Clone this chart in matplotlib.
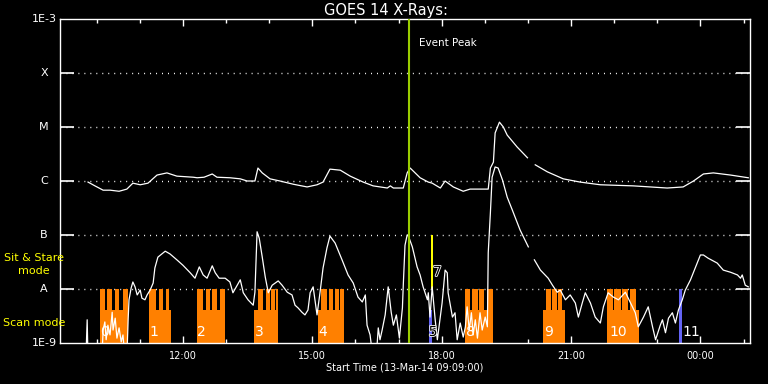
import numpy as np
import matplotlib.pyplot as plt
import matplotlib.patheffects as pe

# GOES 14 X-rays, 13-Mar-14 from 09:09 UT
# time in hours after start, flux as log10(W/m^2)
long_t = [0.65, 0.81, 1.00, 1.16, 1.37, 1.55, 1.69, 1.86, 2.04, 2.25, 2.48, 2.71,
          3.09, 3.18, 3.34, 3.53, 3.64, 3.94, 4.18, 4.34, 4.52, 4.59, 4.69, 4.87,
          5.10, 5.41, 5.73, 5.96, 6.10, 6.26, 6.50, 6.73, 7.03, 7.26, 7.59, 7.66,
          7.73, 7.96, 8.05, 8.12, 8.35, 8.54, 8.63, 8.82, 8.93, 9.12, 9.35, 9.51,
          9.93, 9.98, 10.05, 10.09, 10.19, 10.28, 10.37, 10.60, 10.84, np.nan,
          11.02, 11.30, 11.67, 12.06, 12.53, 13.29, 14.08, 14.45, 14.69, 14.92,
          15.15, 15.55, 15.96]
long_log = [-6.02, -6.09, -6.17, -6.17, -6.19, -6.15, -6.04, -6.07, -6.04, -5.89, -5.85, -5.91,
            -5.93, -5.94, -5.93, -5.87, -5.93, -5.94, -5.96, -6.00, -6.00, -5.76, -5.85, -5.96,
            -6.00, -6.06, -6.11, -6.07, -6.02, -5.78, -5.80, -5.91, -6.02, -6.09, -6.13, -6.09,
            -6.13, -6.13, -5.85, -5.76, -5.94, -6.02, -6.04, -6.13, -6.00, -6.11, -6.19, -6.15,
            -6.15, -5.76, -5.65, -5.11, -4.91, -5.00, -5.15, -5.37, -5.57, np.nan,
            -5.70, -5.83, -5.96, -6.02, -6.07, -6.09, -6.13, -6.11, -6.00, -5.87,
            -5.85, -5.89, -5.94]

short_t = [0.60, 0.63, 0.65, 0.97, 1.00, 1.04, 1.07, 1.11, 1.16, 1.21, 1.23, 1.28,
           1.32, 1.37, 1.42, 1.46, 1.51, 1.55, 1.58, 1.60, 1.65, 1.69, 1.74, 1.79,
           1.86, 1.90, 1.97, 2.02, 2.09, 2.16, 2.20, 2.27, 2.44, 2.55, 2.71, 2.85,
           3.02, 3.13, 3.23, 3.32, 3.41, 3.53, 3.60, 3.69, 3.83, 3.94, 4.01, 4.11,
           4.18, 4.25, 4.36, 4.48, 4.52, 4.57, 4.62, 4.69, 4.76, 4.83, 4.92, 5.06,
           5.15, 5.27, 5.38, 5.45, 5.52, 5.61, 5.68, 5.75, 5.80, 5.87, 5.96, 6.03,
           6.10, 6.19, 6.26, 6.38, 6.54, 6.68, 6.80, 6.91, 7.01, 7.08, 7.12, 7.19,
           7.26, 7.33, 7.38, 7.42, 7.47, 7.54, 7.61, 7.68, 7.73, 7.80, 7.87, 7.94,
           7.96, 8.00, 8.05, 8.07, 8.17, 8.28, 8.35, 8.42, 8.52, 8.54, 8.58, 8.63,
           8.70, 8.75, 8.86, 8.93, 8.98, 9.00, 9.10, 9.16, 9.21, 9.28, 9.35, 9.40,
           9.44, 9.49, 9.54, 9.58, 9.63, 9.68, 9.74, 9.79, 9.86, 9.91, 9.93, 9.98,
           10.02, 10.09, 10.16, 10.26, 10.37, 10.49, 10.67, 10.86, np.nan, 11.00,
           11.14, 11.32, 11.42, 11.53, 11.60, 11.72, 11.83, 11.95, 12.02, 12.11,
           12.18, 12.30, 12.41, 12.53, 12.60, 12.71, 12.83, 12.95, 13.11, 13.23,
           13.34, 13.41, 13.53, 13.64, 13.74, 13.81, 13.92, 13.97, 14.04, 14.11,
           14.20, 14.27, 14.34, 14.43, 14.50, 14.62, 14.73, 14.85, 14.92, 15.03,
           15.24, 15.38, 15.55, 15.71, 15.78, 15.82, 15.89, 15.96]
short_log = [-9.3, -8.57, -9.3, -9.3, -8.76, -8.61, -8.94, -8.67, -8.85, -8.43, -8.76, -8.54,
             -8.91, -8.72, -8.98, -8.85, -9.3, -9.3, -8.57, -8.20, -7.98, -7.87, -7.96, -8.11,
             -8.02, -8.17, -8.20, -8.11, -8.02, -7.89, -7.61, -7.41, -7.30, -7.35, -7.46, -7.56,
             -7.70, -7.80, -7.59, -7.74, -7.80, -7.57, -7.70, -7.80, -7.80, -7.87, -8.07, -7.93,
             -7.83, -8.07, -8.20, -8.30, -8.06, -6.94, -7.06, -7.41, -7.78, -8.07, -7.93, -7.85,
             -7.93, -8.06, -8.11, -8.30, -8.35, -8.43, -8.48, -8.39, -8.07, -7.96, -8.48, -8.06,
             -7.61, -7.24, -7.02, -7.15, -7.46, -7.74, -7.89, -8.15, -8.24, -8.11, -8.67, -8.85,
             -9.3, -9.3, -8.72, -8.94, -8.76, -8.48, -7.96, -8.43, -8.67, -8.48, -8.91, -8.35,
             -7.93, -7.19, -7.00, -7.00, -7.22, -7.59, -7.74, -7.96, -8.20, -8.07, -8.52, -7.96,
             -8.57, -8.94, -8.26, -7.65, -7.70, -8.07, -8.52, -8.44, -8.94, -8.63, -8.89, -8.70,
             -8.33, -8.76, -8.44, -8.85, -8.57, -8.91, -8.44, -8.76, -8.52, -8.70, -7.33, -6.59,
             -5.93, -5.74, -5.76, -5.98, -6.30, -6.54, -6.91, -7.22, np.nan, -7.46,
             -7.65, -7.80, -7.93, -8.06, -8.02, -8.20, -8.11, -8.26, -8.52, -8.26,
             -8.07, -8.26, -8.52, -8.63, -8.33, -8.07, -8.15, -8.20, -8.06, -8.26,
             -8.44, -8.70, -8.52, -8.33, -8.70, -8.94, -8.67, -8.57, -8.81, -8.54,
             -8.44, -8.63, -8.39, -8.20, -8.02, -7.83, -7.61, -7.37, -7.37, -7.43,
             -7.52, -7.65, -7.69, -7.74, -7.80, -7.74, -7.93, -7.96]

levels = [1e-9, 1e-8, 1e-7, 1e-6, 1e-5, 1e-4, 1e-3]
level_names = ['1E-9', 'A', 'B', 'C', 'M', 'X', '1E-3']

# observation blocks (scan mode)
scan_start = [0.93, 2.06, 3.18, 4.50, 5.98, 9.38, 11.21, 12.68]
scan_end = [1.58, 2.58, 3.83, 5.05, 6.59, 10.03, 11.72, 13.42]
scan_teeth = [
    [(0.93, 1.05), (1.10, 1.21), (1.27, 1.37), (1.45, 1.58)],
    [(2.06, 2.23), (2.29, 2.39), (2.45, 2.53)],
    [(3.18, 3.32), (3.38, 3.48), (3.53, 3.64), (3.70, 3.83)],
    [(4.58, 4.71), (4.77, 4.86), (4.90, 4.98), (5.01, 5.06)],
    [(6.06, 6.18), (6.23, 6.34), (6.38, 6.46), (6.50, 6.59)],
    [(9.38, 9.50), (9.55, 9.69), (9.72, 9.83), (9.90, 10.03)],
    [(11.28, 11.38), (11.41, 11.52), (11.55, 11.65)],
    [(12.69, 12.82), (12.85, 13.00), (13.04, 13.17), (13.22, 13.35)],
]
scan_names = ['0', '1', '2', '3', '4', '8', '9', '10']
scan_name_t = [1.04, 2.18, 3.27, 4.62, 6.10, 9.51, 11.32, 12.95]
scan_base = 4.1e-9

blue_start = [8.56, 14.36]
blue_end = [8.63, 14.43]
blue_top = [4.1e-9, 1e-8]
blue_names = ['5', '11']
blue_name_t = [8.65, 14.64]

stare_start = 8.61
stare_end = 8.65
stare_name_t = 8.75
stare_name_y = 2.07e-8

event_peak = 8.10

orange = '#FF8000'
blue = '#6464F5'
green = '#9ACD00'

fig = plt.figure(figsize=(7.68, 3.84), dpi=100, facecolor='black')
ax = fig.add_axes([60 / 768, 41 / 384, 690 / 768, 324 / 384], facecolor='black')
ax.set_yscale('log')
ax.set_xlim(0, 16)
ax.set_ylim(1e-9, 1e-3)

# dotted level lines
for lv in levels[1:-1]:
    ax.axhline(lv, color='white', lw=1.0, linestyle=(0, (0.7, 3.6)), zorder=1)

# scan mode blocks
for s, e, teeth in zip(scan_start, scan_end, scan_teeth):
    ax.bar(s, scan_base - 1e-9, bottom=1e-9, width=e - s, align='edge',
           color=orange, lw=0, zorder=2)
    for a, b in teeth:
        ax.bar(a, 1e-8 - 1e-9, bottom=1e-9, width=b - a, align='edge',
               color=orange, lw=0, zorder=2)
for s, e, top in zip(blue_start, blue_end, blue_top):
    ax.bar(s, top - 1e-9, bottom=1e-9, width=e - s, align='edge',
           color=blue, lw=0, zorder=2)
ax.bar(stare_start, 1e-7 - 1e-8, bottom=1e-8, width=stare_end - stare_start,
       align='edge', color='yellow', lw=0, zorder=2)

ax.plot(long_t, np.power(10.0, long_log), color='white', lw=0.9, zorder=3)
ax.plot(short_t, np.power(10.0, short_log), color='white', lw=0.9, zorder=3)

ax.axvline(event_peak, color=green, lw=1.5, zorder=4)
ax.text(event_peak + 0.23, 3.6e-4, 'Event Peak', color='white', fontsize=7.5,
        va='center', ha='left')

for name, t in zip(scan_names, scan_name_t):
    ax.text(t, 1.6e-9, name, color='white', fontsize=10, ha='center', va='center', zorder=5)
hollow = [pe.withStroke(linewidth=1.2, foreground='white')]
ax.text(blue_name_t[0], 1.6e-9, blue_names[0], color='black', fontsize=10,
        ha='center', va='center', zorder=5, path_effects=hollow)
ax.text(blue_name_t[1], 1.6e-9, blue_names[1], color='white', fontsize=10,
        ha='center', va='center', zorder=5)
ax.text(stare_name_t, stare_name_y, '7', color='black', fontsize=10,
        ha='center', va='center', zorder=5, path_effects=hollow)

# axes styling
for sp in ax.spines.values():
    sp.set_color('white')
    sp.set_linewidth(1.0)
ax.set_yticks(levels[1:-1])
ax.set_yticklabels([])
ax.yaxis.set_minor_locator(plt.NullLocator())
ax.tick_params(axis='y', which='major', direction='in', length=10, width=1.2,
               color='white', left=True, right=True)
majors = [2.85, 5.85, 8.85, 11.85, 14.85]
ax.set_xticks(majors)
ax.set_xticklabels(['12:00', '15:00', '18:00', '21:00', '00:00'])
ax.set_xticks([h + 0.85 for h in range(16) if h + 0.85 not in majors], minor=True)
ax.tick_params(axis='x', which='major', direction='in', length=5, width=1,
               color='white', labelcolor='white', labelsize=7, top=True, pad=6)
ax.tick_params(axis='x', which='minor', direction='in', length=2.8, width=1,
               color='white', top=True)

for lv, name in zip(levels, level_names):
    if name.startswith('1E'):
        ax.text(-3 / 690, lv, name, transform=ax.get_yaxis_transform(),
                color='white', fontsize=8, ha='right', va='center')
    else:
        ax.text(-16 / 690, lv, name, transform=ax.get_yaxis_transform(),
                color='white', fontsize=8, ha='center', va='center')

fig.text(386 / 768, 1 - 10 / 384, 'GOES 14 X-Rays:', color='white', fontsize=10.5,
         ha='center', va='center')
fig.text(405 / 768, 1 - 368 / 384, 'Start Time (13-Mar-14 09:09:00)', color='white',
         fontsize=7, ha='center', va='center')
fig.text(34 / 768, 1 - 258 / 384, 'Sit & Stare', color='yellow', fontsize=8,
         ha='center', va='center')
fig.text(34 / 768, 1 - 271 / 384, 'mode', color='yellow', fontsize=8,
         ha='center', va='center')
fig.text(34 / 768, 1 - 323 / 384, 'Scan mode', color='yellow', fontsize=8,
         ha='center', va='center')

fig.savefig('out.png', dpi=100, facecolor='black')
